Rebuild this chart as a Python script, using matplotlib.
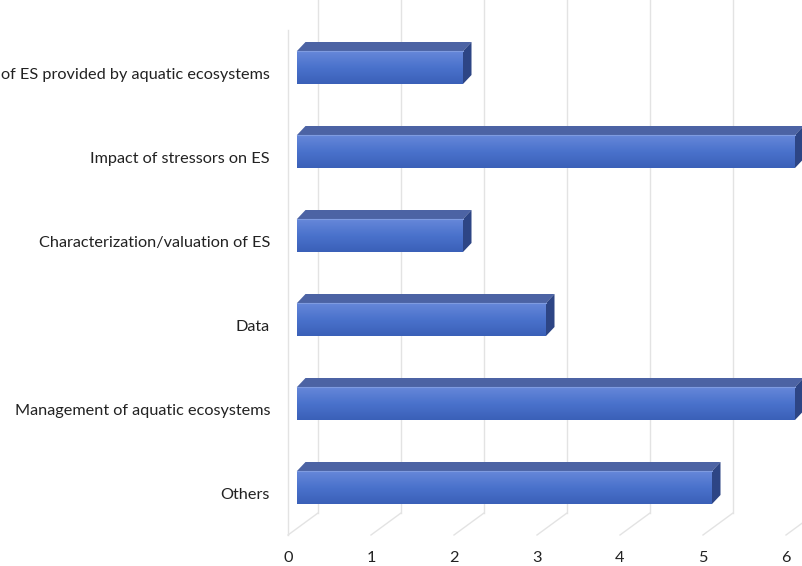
import numpy as np
import matplotlib
matplotlib.use("Agg")
from matplotlib import pyplot as plt
from matplotlib.patches import Polygon, Rectangle

# categories, top to bottom
categories = [
    "of ES provided by aquatic ecosystems",
    "Impact of stressors on ES",
    "Characterization/valuation of ES",
    "Data",
    "Management of aquatic ecosystems",
    "Others",
]
counts = [2, 6, 2, 3, 6, 5]
ticks = [0, 1, 2, 3, 4, 5, 6]

plt.rcParams['font.family'] = ['Lato', 'DejaVu Sans']

W, H = 802, 566
PX_X = 83.0    # pixels per unit on the value axis
PX_Y = 84.0    # pixels per category row
X0 = 288.0     # pixel of value 0 on the front plane
Y0 = 67.5      # pixel of the first bar centre

fig = plt.figure(figsize=(W / 100, H / 100), dpi=100)
ax = fig.add_axes([0, 0, 1, 1])
ax.set_xlim(-X0 / PX_X, (W - X0) / PX_X)
ax.set_ylim((H - Y0) / PX_Y, -Y0 / PX_Y)
ax.axis('off')

# oblique projection offsets (data units)
wall_dx = 30 / PX_X
wall_dy = 22 / PX_Y
floor_front = (535 - Y0) / PX_Y
floor_back = floor_front - wall_dy
top_row = -Y0 / PX_Y - 0.05

grid_col = '#e3e3e3'
for t in ticks:
    xb = t + wall_dx
    ax.plot([xb, xb], [top_row, floor_back], color=grid_col, lw=1, zorder=1)
    ax.plot([xb, t], [floor_back, floor_front], color=grid_col, lw=1, zorder=1)
ax.plot([0, 0], [(30 - Y0) / PX_Y, floor_front], color=grid_col, lw=1, zorder=1)

# 3d bars
shift = 9 / PX_X
dx = 8.5 / PX_X
dy = 9 / PX_Y
h = 16.5 / PX_Y
grad = np.linspace(0, 1, 64).reshape(-1, 1)
cmap = matplotlib.colors.LinearSegmentedColormap.from_list(
    'front', ['#6687d9', '#4a72cc', '#3a60b8'])

for r, v in enumerate(counts):
    x1 = shift
    x2 = shift + v
    ytop = r - h
    ybot = r + h
    face = Rectangle((x1, ytop), v, 2 * h, facecolor='none', edgecolor='none')
    ax.add_patch(face)
    im = ax.imshow(grad, cmap=cmap, aspect='auto', extent=(x1, x2, ybot, ytop),
                   zorder=3, interpolation='bilinear')
    im.set_clip_path(face)
    top = Polygon([(x1, ytop), (x2, ytop), (x2 + dx, ytop - dy), (x1 + dx, ytop - dy)],
                  closed=True, facecolor='#4c63a4', edgecolor='none', zorder=3)
    side = Polygon([(x2, ytop), (x2 + dx, ytop - dy), (x2 + dx, ybot - dy), (x2, ybot)],
                   closed=True, facecolor='#2d4585', edgecolor='none', zorder=3)
    ax.add_patch(top)
    ax.add_patch(side)
    ax.plot([x1, x2], [ytop, ytop], color='#7f9be0', lw=0.8, zorder=4)

    ax.text(-18 / PX_X, r + 7 / PX_Y, categories[r], ha='right', va='center',
            fontsize=11.7, color='#222222', zorder=5)

for t in ticks:
    ax.text(t, (558 - Y0) / PX_Y, str(t), ha='center', va='center',
            fontsize=11.7, color='#222222')

ax.set_xlim(-X0 / PX_X, (W - X0) / PX_X)
ax.set_ylim((H - Y0) / PX_Y, -Y0 / PX_Y)
fig.savefig('out.png', dpi=100)
